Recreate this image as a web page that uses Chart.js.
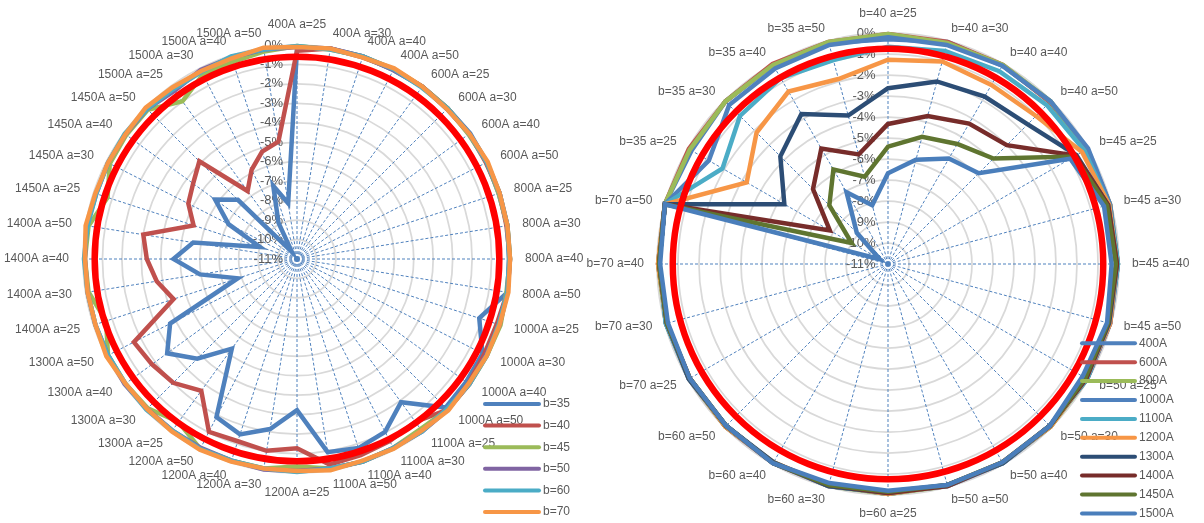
<!DOCTYPE html>
<html>
<head>
<meta charset="utf-8">
<script src="https://cdn.jsdelivr.net/npm/chart.js@4/dist/chart.umd.min.js"></script>
<style>
  html, body { margin: 0; padding: 0; background: #ffffff; }
  #wrap { position: relative; width: 1204px; height: 523px; overflow: hidden; }
  canvas { position: absolute; left: 0; top: 0; }
</style>
</head>
<body>
<div id="wrap">
  <canvas id="byCurrent" width="1204" height="523"></canvas>
  <canvas id="byWidth" width="1204" height="523"></canvas>
</div>
<script>
// ---- data ---------------------------------------------------------------
const currents = ['400A', '600A', '800A', '1000A', '1100A', '1200A', '1300A', '1400A', '1450A', '1500A'];
const aSteps = [25, 30, 40, 50];
const bCategoryOrder = [40, 45, 50, 60, 70, 35];   // b groups around the right-hand radar
const bSeries = [35, 40, 45, 50, 60, 70];          // one line per b on the left-hand radar
const tickValues = [0, -1, -2, -3, -4, -5, -6, -7, -8, -9, -10, -11];

// deviation in %, per current; order: b (bCategoryOrder) x a (aSteps)
const dev400  = [-0.3, -0.05, -0.1, -0.05,  -0.05, -0.1, -0.05, -0.05,  -0.1, -0.05, -0.05, -0.1,  -0.05, -0.1, -0.05, -0.05,  -0.1, -0.05, -0.1, 0,  -0.2, -0.05, -0.05, -0.1];
const dev600  = [-0.05, -0.05, -0.05, -0.1,  -0.05, -0.05, -0.1, -0.05,  -0.05, -0.1, -0.05, -0.05,  -0.1, -0.05, -0.05, -0.05,  -0.05, -0.1, -0.05, 0,  -0.05, -0.05, 0, -0.05];
const dev800  = [-0.05, -0.1, -0.05, -0.05,  -0.1, -0.05, -0.05, -0.1,  -0.05, -0.05, -0.1, -0.05,  -0.05, -0.05, -0.1, -0.05,  -0.05, -0.05, -0.05, 0,  -0.1, -0.05, -0.05, -0.05];
const dev1000 = [-0.2, -0.2, -0.1, -0.05,  0, -0.05, -0.05, -0.05,  -0.05, -0.1, -0.05, -0.05,  -0.1, -0.05, -0.05, -0.1,  -0.05, -0.05, -0.1, 0,  -1.15, -0.3, -0.25, -0.2];
const dev1100 = [-0.65, -0.5, -0.4, -0.3,  -0.2, -0.1, -0.05, -0.1,  -0.05, -0.1, -0.05, -0.1,  -0.05, -0.1, -0.05, -0.1,  -0.1, -0.05, -0.1, 0,  -1.9, -1.03, -0.78, -0.95];
const dev1200 = [-1.27, -1.02, -1.15, -1.03,  -0.33, -0.1, -0.1, -0.05,  -0.1, -0.05, -0.1, -0.1,  -0.05, -0.1, -0.1, -0.05,  -0.1, -0.1, -0.05, 0,  -3.23, -2.15, -1.52, -1.88];
const dev1300 = [-2.63, -2.0, -1.79, -1.59,  -0.64, -0.15, -0.1, -0.1,  -0.1, -0.1, -0.05, -0.1,  -0.1, -0.05, -0.1, -0.1,  -0.05, -0.1, -0.1, 0,  -5.3, -3.75, -2.75, -3.68];
const dev1400 = [-4.33, -3.7, -3.28, -3.0,  -0.68, -0.15, -0.1, -0.15,  -0.1, -0.1, -0.1, -0.05,  -0.1, -0.1, -0.05, -0.1,  -0.1, -0.1, -0.1, 0,  -7.8, -5.95, -4.65, -5.6];
const dev1450 = [-5.41, -4.73, -4.4, -3.9,  -0.76, -0.2, -0.15, -0.15,  -0.15, -0.1, -0.1, -0.1,  -0.15, -0.1, -0.05, -0.1,  -0.1, -0.1, -0.1, 0,  -9.0, -7.05, -5.8, -6.7];
const dev1500 = [-6.68, -5.86, -5.2, -4.89,  -0.98, -0.35, -0.35, -0.2,  -0.3, -0.1, -0.1, -0.1,  -0.2, -0.2, -0.05, -0.1,  -0.1, -0.15, -0.15, 0,  -10.55, -8.9, -7.05, -8.1];

// red limit ring on each radar (in %)
const limitByCurrent = -0.6;
const limitByWidth = -0.75;

const colorsB = ['#4F81BD', '#C0504D', '#9BBB59', '#8064A2', '#4BACC6', '#F79646'];
const colorsI = ['#4F81BD', '#C0504D', '#9BBB59', '#4F81BD', '#4BACC6', '#F79646', '#2C4D75', '#772C2A', '#5F7530', '#4A7EBB'];

// ---- derived tables -----------------------------------------------------
const devByCurrent = [dev400, dev600, dev800, dev1000, dev1100, dev1200, dev1300, dev1400, dev1450, dev1500];

const leftLabels = currents.flatMap(c => aSteps.map(a => c + ' a=' + a));
const rightLabels = bCategoryOrder.flatMap(b => aSteps.map(a => 'b=' + b + ' a=' + a));

const leftSeries = bSeries.map(b => {
  const bi = bCategoryOrder.indexOf(b);
  return devByCurrent.flatMap(row => aSteps.map((a, ai) => row[bi * aSteps.length + ai]));
});

// ---- drawing helpers ----------------------------------------------------
const TEXT = '#595959';
const FONT_FAMILY = "'Liberation Sans', Arial, sans-serif";

function placeScale(cx, cy, radius) {
  return function (scale) {
    scale.xCenter = cx;
    scale.yCenter = cy;
    scale.drawingArea = radius;
  };
}

const excelRadar = {
  id: 'excelRadar',
  beforeDatasetsDraw(chart, args, opts) {
    const scale = chart.scales.r;
    const ctx = chart.ctx;
    ctx.save();
    ctx.fillStyle = TEXT;
    // value labels beside the top spoke
    ctx.font = '13px ' + FONT_FAMILY;
    ctx.textAlign = 'right';
    ctx.textBaseline = 'middle';
    tickValues.forEach(v => {
      const d = scale.getDistanceFromCenterForValue(v);
      ctx.fillText(v + '%', scale.xCenter - opts.tickGap, scale.yCenter - d);
    });
    // category labels round the rim
    ctx.font = '12px ' + FONT_FAMILY;
    const labels = chart.data.labels;
    const n = labels.length;
    const outer = scale.getDistanceFromCenterForValue(scale.max) + opts.labelPad;
    labels.forEach((txt, i) => {
      const p = scale.getPointPosition(i, outer);
      const deg = Math.round(i * 360 / n);
      if (deg === 0) { ctx.textAlign = 'center'; ctx.textBaseline = 'bottom'; }
      else if (deg === 180) { ctx.textAlign = 'center'; ctx.textBaseline = 'top'; }
      else { ctx.textAlign = deg < 180 ? 'left' : 'right'; ctx.textBaseline = 'middle'; }
      ctx.fillText(txt, p.x, p.y);
    });
    ctx.restore();
  },
  afterDatasetsDraw(chart, args, opts) {
    const scale = chart.scales.r;
    const ctx = chart.ctx;
    ctx.save();
    // limit ring
    ctx.beginPath();
    ctx.arc(scale.xCenter, scale.yCenter, scale.getDistanceFromCenterForValue(opts.limit), 0, Math.PI * 2);
    ctx.strokeStyle = '#FF0000';
    ctx.lineWidth = 6.5;
    ctx.stroke();
    // legend
    const lg = opts.legend;
    ctx.font = '12px ' + FONT_FAMILY;
    ctx.textAlign = 'left';
    ctx.textBaseline = 'middle';
    ctx.lineCap = 'round';
    chart.data.datasets.forEach((ds, i) => {
      const y = lg.y + i * lg.dy;
      ctx.beginPath();
      ctx.moveTo(lg.x, y);
      ctx.lineTo(lg.x + lg.len, y);
      ctx.strokeStyle = ds.borderColor;
      ctx.lineWidth = 4;
      ctx.stroke();
      ctx.fillStyle = TEXT;
      ctx.fillText(ds.label, lg.x + lg.len + 4, y);
    });
    ctx.restore();
  }
};

function radarConfig(labels, datasets, layout) {
  return {
    type: 'radar',
    data: { labels, datasets },
    options: {
      responsive: false,
      animation: false,
      events: [],
      layout: { padding: 0 },
      plugins: {
        legend: { display: false },
        tooltip: { enabled: false },
        excelRadar: layout.plugin
      },
      elements: {
        line: { borderWidth: 4.5, tension: 0, borderJoinStyle: 'miter', fill: false },
        point: { radius: 0, hitRadius: 0, hoverRadius: 0 }
      },
      scales: {
        r: {
          min: -11,
          max: 0,
          ticks: { stepSize: 1, display: false },
          grid: { circular: true, color: '#D9D9D9', lineWidth: 1.75 },
          angleLines: { color: '#4F81BD', lineWidth: 1, borderDash: [3, 2] },
          pointLabels: { display: false },
          afterFit: placeScale(layout.cx, layout.cy, layout.radius)
        }
      }
    },
    plugins: [excelRadar]
  };
}

function makeSets(names, rows, colors) {
  return names.map((name, i) => ({
    label: name,
    data: rows[i],
    borderColor: colors[i],
    backgroundColor: 'rgba(0,0,0,0)',
    fill: false,
    order: names.length - i,
    clip: false
  }));
}

new Chart(document.getElementById('byCurrent'), radarConfig(
  leftLabels,
  makeSets(bSeries.map(b => 'b=' + b), leftSeries, colorsB),
  { cx: 297, cy: 259, radius: 214,
    plugin: { tickGap: 14, labelPad: 14, limit: limitByCurrent,
              legend: { x: 485, y: 404, dy: 21.6, len: 54 } } }
));

new Chart(document.getElementById('byWidth'), radarConfig(
  rightLabels,
  makeSets(currents, devByCurrent, colorsI),
  { cx: 888, cy: 264, radius: 231,
    plugin: { tickGap: 12.5, labelPad: 13, limit: limitByWidth,
              legend: { x: 1082, y: 343.3, dy: 18.9, len: 53 } } }
));
</script>
</body>
</html>
